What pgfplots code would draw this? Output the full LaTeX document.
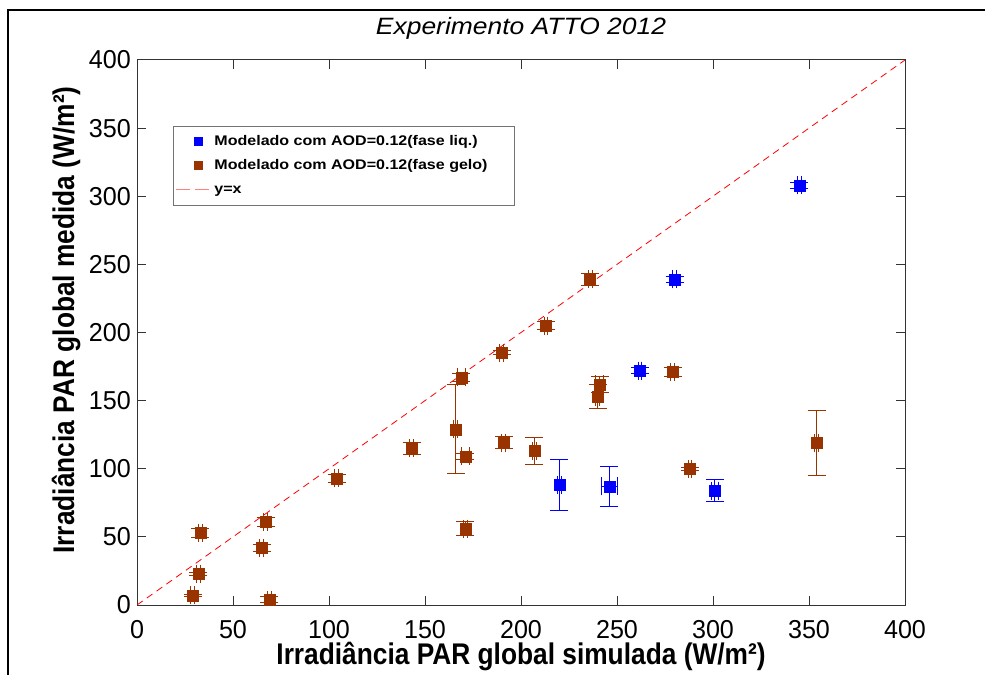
\documentclass[border=0pt]{standalone}
\usepackage{pgfplots}
\pgfplotsset{compat=1.18}
\usepackage{fontspec}
\setmainfont{Liberation Sans}
\newfontfamily\tickfont[FakeStretch=0.97]{Liberation Sans}
\newfontfamily\labfont[FakeStretch=0.88]{Liberation Sans}
\newfontfamily\titfont[FakeStretch=1.12]{Liberation Sans}
\newfontfamily\legfont[FakeStretch=1.15]{Liberation Sans}
\definecolor{brn}{RGB}{153,51,0}
\definecolor{blu}{RGB}{0,0,255}
\pgfplotsset{
  mylegmark/.style={legend image code/.code={\draw[mark repeat=2,mark phase=2,##1,mark size=4bp] plot coordinates {(0bp,0bp)(22bp,0bp)(36bp,0bp)};}},
  mylegline/.style={legend image code/.code={\draw[red!50, line width=1bp, dash pattern=on 14bp off 5bp] (0bp,0bp) -- (36bp,0bp);}},
}
\begin{document}
\begin{tikzpicture}
\useasboundingbox (0bp,0bp) rectangle (985bp,675bp);
\draw[line width=2bp] (8bp,-10bp) -- (8bp,665bp) -- (995bp,665bp);
\begin{axis}[
  at={(137bp,70bp)}, anchor=south west,
  scale only axis, width=768bp, height=545bp,
  xmin=0, xmax=400, ymin=0, ymax=400,
  xtick={0,50,...,400}, ytick={0,50,...,400},
  tick pos=both, tick align=inside, major tick length=9bp,
  axis line style={line width=1bp, black!80},
  tick style={line width=1bp, black!80},
  /pgf/number format/assume math mode=true,
  ticklabel style={font=\tickfont\fontsize{26}{30}\selectfont},
  xticklabel style={anchor=base, inner sep=0pt, yshift=-33bp},
  yticklabel style={anchor=east, inner sep=0pt, xshift=-6bp},
  xlabel={\bfseries Irradiância PAR global simulada (W/m²)},
  ylabel={\bfseries Irradiância PAR global medida (W/m²)},
  label style={font=\labfont\fontsize{30}{34}\selectfont},
  xlabel style={at={(axis description cs:0.5,-0.110)}, anchor=base, inner sep=0pt},
  ylabel style={at={(axis description cs:-0.082,0.523)}, anchor=base, inner sep=0pt},
  title={\itshape Experimento ATTO 2012},
  title style={font=\titfont\fontsize{23.7}{27}\selectfont, at={(axis description cs:0.5,1)}, anchor=base, inner sep=0pt, yshift=20bp},
  legend style={at={(0.0469,0.879)}, anchor=north west, draw=black!55, line width=0.8bp,
    font=\legfont\fontsize{14}{16}\selectfont\bfseries, cells={anchor=west},
    nodes={text height=11bp, text depth=4bp},
    row sep=5bp, inner xsep=2bp, inner ysep=6bp},
  error bars/error bar style={line width=1bp},
  error bars/error mark options={rotate=90, mark size=9bp, line width=1bp},
]
\addplot[red, line width=0.8bp, dash pattern=on 7bp off 5bp, forget plot] coordinates {(0,0) (400,400)};

\addplot[only marks, mark=square*, mark size=5.5bp, color=blu, mylegmark,
  error bars/.cd, y dir=both, y explicit, x dir=both, x explicit]
  table[x=x, y=y, x error=ex, y error=ey] {
x   y   ex  ey
220 88  1   19
246 87  4   15
262 172 1   2
280 239 1   2
301 84  2   8
345 308 1   2
};
\addlegendentry{Modelado com AOD=0.12(fase liq.)}

\addplot[only marks, mark=square*, mark size=5.5bp, color=brn, mylegmark,
  error bars/.cd, y dir=both, y explicit, x dir=both, x explicit]
  table[x=x, y=y, x error=ex, y error=ey] {
x   y   ex  ey
29  7   1   1
32  23  1   1
33  53  1   3.4
65  42  1   2.4
67  61  1   3.5
69  4   1   2
104 93  1   3
143 115 1   4.4
166 129 1   32.5
171 109 2   2.5
171 56  1   5
169 167 2   3
190 185 1   1.5
191 119 1   4.5
207 113 1   10
213 205 1   3
236 239 1   4.4
241 162 2   6
240 153 1   9
279 171 1   3
288 100 1   1
354 119 1   24
};
\addlegendentry{Modelado com AOD=0.12(fase gelo)\rule{23bp}{0bp}}

\addlegendimage{mylegline}
\addlegendentry{y=x}
\end{axis}
\end{tikzpicture}
\end{document}
